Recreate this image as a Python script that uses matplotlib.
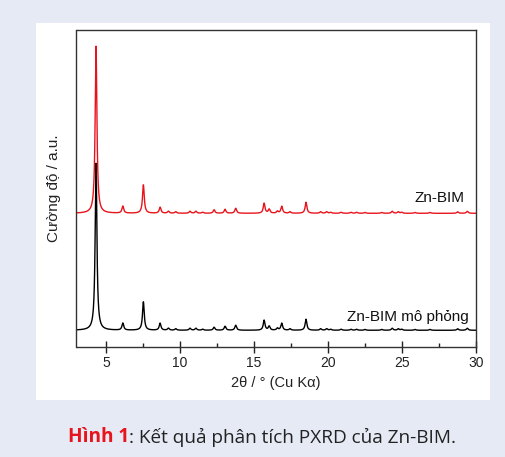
import matplotlib
matplotlib.use('Agg')
import matplotlib.pyplot as plt
import numpy as np

# peak positions (2theta, deg) and relative heights
peak_pos = [4.32, 6.13, 7.52, 8.65, 9.21, 9.71, 10.67, 11.07, 11.53, 12.30,
            13.04, 13.76, 15.68, 16.02, 16.58, 16.87, 17.43, 18.51, 19.50,
            19.91, 20.18, 20.88, 21.55, 21.93, 22.50, 23.63, 24.34, 24.75,
            24.98, 25.88, 26.89, 28.76, 29.41]
red_heights = [100, 4.2, 17, 3.6, 1.2, 0.9, 1.2, 1.2, 0.6, 2.1,
               2.4, 3.0, 6.0, 2.4, 1.2, 4.2, 0.9, 6.6, 0.9,
               0.9, 0.6, 0.6, 0.6, 0.6, 0.5, 0.5, 1.2, 0.9,
               0.6, 0.5, 0.5, 0.9, 1.2]
black_heights = [100, 4.2, 17, 4.2, 1.2, 0.9, 1.2, 1.2, 0.6, 1.8,
                 2.4, 3.0, 6.0, 2.4, 1.2, 4.2, 0.9, 6.6, 0.9,
                 0.9, 0.6, 0.6, 0.6, 0.6, 0.5, 0.5, 1.2, 0.9,
                 0.6, 0.5, 0.5, 0.9, 1.2]
red_offset = 80
black_offset = 10

labels = ['Zn-BIM', 'Zn-BIM mô phỏng']
x_ticks = [5, 10, 15, 20, 25, 30]


def profile(x, pos, heights, w=0.07):
    # lorentzian line shapes summed over the peak list
    y = np.zeros_like(x)
    for p, h in zip(pos, heights):
        y += h / (1 + ((x - p) / w) ** 2)
    return y


def main():
    bg = '#e6eaf5'
    fig = plt.figure(figsize=(5.06, 4.57), dpi=100)
    fig.patch.set_facecolor(bg)

    W, H = 506, 457
    # white panel behind the chart
    panel = fig.add_axes([36 / W, 1 - 400 / H, 454 / W, 377 / H], zorder=-1)
    panel.set_axis_off()
    panel.add_patch(plt.Rectangle((0, 0), 1, 1, facecolor='white',
                                  edgecolor='none', transform=panel.transAxes))

    ax = fig.add_axes([76.5 / W, 1 - 347 / H, 399.5 / W, 317.5 / H])
    ax.set_facecolor('white')

    x = np.linspace(3, 30, 6000)
    ax.plot(x, profile(x, peak_pos, red_heights) + red_offset,
            color='#e8141c', lw=1.0)
    ax.plot(x, profile(x, peak_pos, black_heights) + black_offset,
            color='black', lw=1.0)

    ax.set_xlim(3, 30)
    ax.set_ylim(0, 190)
    ax.set_yticks([])
    ax.set_xticks(x_ticks)
    ax.set_xticks([7.5, 12.5, 17.5, 22.5, 27.5], minor=True)
    ax.tick_params(axis='x', which='major', direction='inout', length=9,
                   width=1, labelsize=10, pad=2, colors='#222222')
    ax.tick_params(axis='x', which='minor', direction='in', length=3,
                   width=1, colors='#222222')
    for lab in ax.get_xticklabels():
        lab.set_fontfamily('Liberation Sans')
    for s in ax.spines.values():
        s.set_color('#333333')
        s.set_linewidth(1.0)

    ax.set_xlabel('2θ / ° (Cu Kα)', fontsize=10.5, family='Liberation Sans',
                  labelpad=4, color='#222222')
    ax.set_ylabel('Cường độ / a.u.', fontsize=11, family='Liberation Sans',
                  labelpad=11, color='#222222')

    ax.text(29.2, red_offset + 5, labels[0], ha='right', va='bottom',
            fontsize=11, family='Liberation Sans', color='#111111')
    ax.text(29.5, black_offset + 3.5, labels[1], ha='right', va='bottom',
            fontsize=11, family='Liberation Sans', color='#111111')

    # caption: red bold figure number followed by the rest
    t1 = fig.text(68 / W, 1 - 442 / H, 'Hình 1', color='#e8141c',
                  fontsize=13.7, fontweight='bold', family='Open Sans',
                  va='baseline', ha='left')
    fig.texts.append(plt.Annotation(': Kết quả phân tích PXRD của Zn-BIM.',
                                    xy=(1, 0), xycoords=t1, va='bottom',
                                    ha='left', color='#222222',
                                    fontsize=13.7, family='Open Sans'))
    fig.texts[-1].set_figure(fig)

    fig.savefig('out.png', dpi=100, facecolor=bg)


if __name__ == '__main__':
    main()
